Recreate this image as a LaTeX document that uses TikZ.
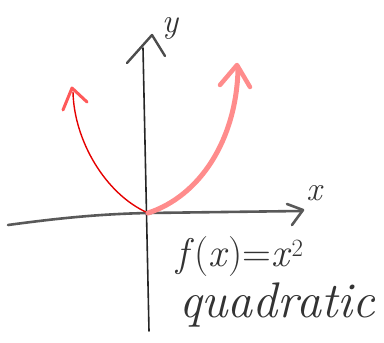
\documentclass[tikz,border=0pt]{standalone}
\begin{document}
\begin{tikzpicture}[x=1pt,y=-1pt,line cap=round,line join=round,
  axisline/.style={draw=black!85,line width=1.6pt},
  xaxisline/.style={draw=black!65,line width=2.6pt},
  redthin/.style={draw=red!90!black,line width=1.4pt},
  redthick/.style={draw=red!45,line width=5pt},
  hand/.style={text=black!80,inner sep=0pt,anchor=base}]
\useasboundingbox (0,0) rectangle (384,343);
% axes
\coordinate (o) at (148,213);
\coordinate (ybot) at (149,331);
\coordinate (ytop) at (143,48);
\coordinate (xl) at (8,225);
\coordinate (xr) at (301,211);
\draw[axisline] (ybot) -- (ytop);
\draw[axisline,line width=2.4pt,draw=black!70] (127,63) -- (152,35) -- (165,56);
\draw[xaxisline] (xl) .. controls (60,218) and (100,214) .. (o) -- (xr);
\draw[xaxisline] (287,204) -- (303,210) -- (292,225);
% parabola
\draw[redthin] (o) .. controls (105,194) and (74,140) .. (73,92);
\draw[redthin,line width=3pt,draw=red!65] (63,110) -- (72,88) -- (87,102);
\draw[redthick] (o) .. controls (200,196) and (236,140) .. (238,70);
\draw[redthick,line width=4.5pt] (220,85) -- (237,65) -- (250,87);
% labels
\node[hand,font=\fontsize{34}{34}\selectfont\itshape] (ylab) at (170,32) {y};
\node[hand,font=\fontsize{34}{34}\selectfont\itshape] (xlab) at (314,200) {x};
\node[hand,font=\fontsize{40}{40}\selectfont] (fx) at (240,266) {\textit{f}(\textit{x})=\textit{x}$^{2}$};
\node[hand,font=\fontsize{50}{50}\selectfont\itshape] (quad) at (277,317) {quadratic};
\end{tikzpicture}
\end{document}
